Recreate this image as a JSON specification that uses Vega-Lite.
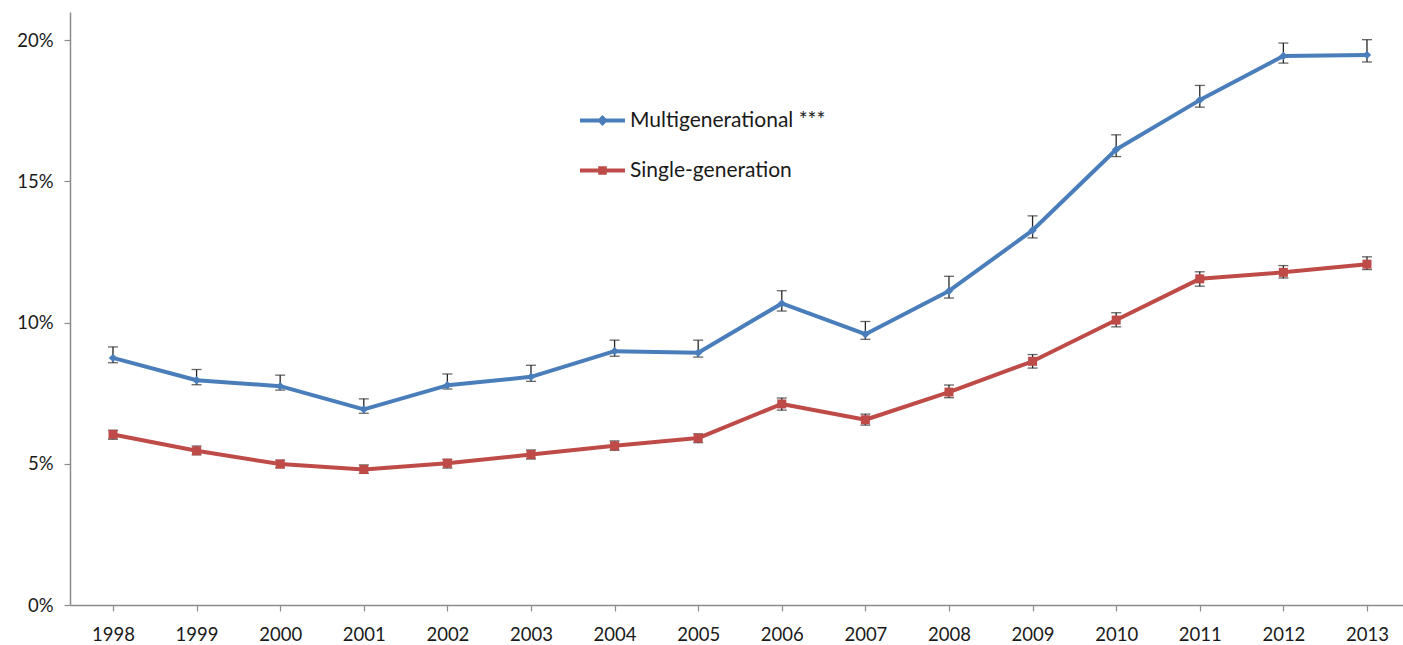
{
  "$schema": "https://vega.github.io/schema/vega-lite/v6.json",
  "autosize": {"type": "none"},
  "width": 1333,
  "height": 593,
  "padding": {"left": 70, "top": 12, "right": 0, "bottom": 40},
  "background": "white",
  "config": {
    "view": {"stroke": null},
    "font": "Lato",
    "axis": {
      "labelFont": "Lato",
      "labelFontSize": 18.5,
      "labelColor": "#1a1a1a",
      "domainColor": "#8c8c8c",
      "domainWidth": 1.5,
      "tickColor": "#8c8c8c",
      "tickWidth": 1.2,
      "tickSize": 6,
      "grid": false
    }
  },
  "data": {
    "values": [
      {"year": "1998", "group": "Multigenerational ***", "pct": 0.0875, "lo": 0.0858, "hi": 0.0914},
      {"year": "1999", "group": "Multigenerational ***", "pct": 0.0796, "lo": 0.0780, "hi": 0.0834},
      {"year": "2000", "group": "Multigenerational ***", "pct": 0.0775, "lo": 0.0761, "hi": 0.0814},
      {"year": "2001", "group": "Multigenerational ***", "pct": 0.0693, "lo": 0.0679, "hi": 0.0730},
      {"year": "2002", "group": "Multigenerational ***", "pct": 0.0778, "lo": 0.0765, "hi": 0.0818},
      {"year": "2003", "group": "Multigenerational ***", "pct": 0.0808, "lo": 0.0792, "hi": 0.0849},
      {"year": "2004", "group": "Multigenerational ***", "pct": 0.0899, "lo": 0.0881, "hi": 0.0938},
      {"year": "2005", "group": "Multigenerational ***", "pct": 0.0893, "lo": 0.0878, "hi": 0.0938},
      {"year": "2006", "group": "Multigenerational ***", "pct": 0.1068, "lo": 0.1041, "hi": 0.1113},
      {"year": "2007", "group": "Multigenerational ***", "pct": 0.0959, "lo": 0.0941, "hi": 0.1004},
      {"year": "2008", "group": "Multigenerational ***", "pct": 0.1112, "lo": 0.1087, "hi": 0.1164},
      {"year": "2009", "group": "Multigenerational ***", "pct": 0.1327, "lo": 0.1300, "hi": 0.1378},
      {"year": "2010", "group": "Multigenerational ***", "pct": 0.1613, "lo": 0.1588, "hi": 0.1665},
      {"year": "2011", "group": "Multigenerational ***", "pct": 0.1788, "lo": 0.1763, "hi": 0.1840},
      {"year": "2012", "group": "Multigenerational ***", "pct": 0.1944, "lo": 0.1919, "hi": 0.1990},
      {"year": "2013", "group": "Multigenerational ***", "pct": 0.1948, "lo": 0.1923, "hi": 0.2002},
      {"year": "1998", "group": "Single-generation", "pct": 0.0604, "lo": 0.0587, "hi": 0.0619},
      {"year": "1999", "group": "Single-generation", "pct": 0.0546, "lo": 0.0532, "hi": 0.0563},
      {"year": "2000", "group": "Single-generation", "pct": 0.0499, "lo": 0.0486, "hi": 0.0513},
      {"year": "2001", "group": "Single-generation", "pct": 0.0480, "lo": 0.0466, "hi": 0.0496},
      {"year": "2002", "group": "Single-generation", "pct": 0.0502, "lo": 0.0485, "hi": 0.0516},
      {"year": "2003", "group": "Single-generation", "pct": 0.0533, "lo": 0.0517, "hi": 0.0549},
      {"year": "2004", "group": "Single-generation", "pct": 0.0564, "lo": 0.0548, "hi": 0.0581},
      {"year": "2005", "group": "Single-generation", "pct": 0.0591, "lo": 0.0575, "hi": 0.0606},
      {"year": "2006", "group": "Single-generation", "pct": 0.0712, "lo": 0.0690, "hi": 0.0733},
      {"year": "2007", "group": "Single-generation", "pct": 0.0656, "lo": 0.0637, "hi": 0.0676},
      {"year": "2008", "group": "Single-generation", "pct": 0.0754, "lo": 0.0734, "hi": 0.0779},
      {"year": "2009", "group": "Single-generation", "pct": 0.0863, "lo": 0.0839, "hi": 0.0887},
      {"year": "2010", "group": "Single-generation", "pct": 0.1009, "lo": 0.0985, "hi": 0.1035},
      {"year": "2011", "group": "Single-generation", "pct": 0.1155, "lo": 0.1129, "hi": 0.1180},
      {"year": "2012", "group": "Single-generation", "pct": 0.1178, "lo": 0.1158, "hi": 0.1202},
      {"year": "2013", "group": "Single-generation", "pct": 0.1207, "lo": 0.1188, "hi": 0.1233}
    ]
  },
  "encoding": {
    "x": {
      "field": "year",
      "type": "ordinal",
      "title": null,
      "scale": {"type": "point", "padding": 0.4725, "align": 0.544},
      "axis": {"labelAngle": 0, "labelPadding": 14}
    }
  },
  "layer": [
    {
      "mark": {
        "type": "errorbar",
        "ticks": {"size": 10, "thickness": 1.3, "color": "#262626"},
        "rule": {"strokeWidth": 1.3, "color": "#262626"}
      },
      "encoding": {
        "y": {
          "field": "lo",
          "type": "quantitative",
          "title": null,
          "scale": {"domain": [0, 0.21], "nice": false, "zero": true},
          "axis": {
            "values": [0, 0.05, 0.1, 0.15, 0.2],
            "format": ".0%",
            "labelPadding": 11
          }
        },
        "y2": {"field": "hi"}
      }
    },
    {
      "mark": {"type": "line", "strokeWidth": 4, "strokeJoin": "round", "strokeCap": "round"},
      "encoding": {
        "y": {"field": "pct", "type": "quantitative", "title": null},
        "color": {
          "field": "group",
          "type": "nominal",
          "scale": {"domain": ["Multigenerational ***", "Single-generation"], "range": ["#4A7EBB", "#BE4B48"]},
          "legend": {
            "title": null,
            "orient": "none",
            "legendX": 510,
            "legendY": 86,
            "symbolSize": 2025,
            "symbolStrokeWidth": 0,
            "rowPadding": 17,
            "labelOffset": 5,
            "labelLimit": 0,
            "labelFont": "Lato",
            "labelFontSize": 21,
            "labelColor": "#1a1a1a",
            "padding": 0,
            "encode": {
              "symbols": {
                "update": {
                  "shape": {"signal": "datum.value === 'Multigenerational ***' ? 'M-1,-0.09H1V0.09H-1Z M0,-0.24L0.24,0L0,0.24L-0.24,0Z' : 'M-1,-0.09H1V0.09H-1Z M-0.19,-0.19H0.19V0.19H-0.19Z'"},
                  "fill": {"signal": "datum.value === 'Multigenerational ***' ? '#4A7EBB' : '#BE4B48'"},
                  "stroke": {"value": "transparent"},
                  "strokeWidth": {"value": 0},
                  "opacity": {"value": 1}
                }
              }
            }
          }
        }
      }
    },
    {
      "transform": [{"filter": "datum.group === 'Multigenerational ***'"}],
      "mark": {"type": "point", "filled": true, "opacity": 1, "shape": "diamond", "size": 70, "color": "#4A7EBB"},
      "encoding": {
        "y": {"field": "pct", "type": "quantitative", "title": null}
      }
    },
    {
      "transform": [{"filter": "datum.group === 'Single-generation'"}],
      "mark": {"type": "point", "filled": true, "opacity": 1, "shape": "square", "size": 81, "color": "#BE4B48"},
      "encoding": {
        "y": {"field": "pct", "type": "quantitative", "title": null}
      }
    }
  ]
}
